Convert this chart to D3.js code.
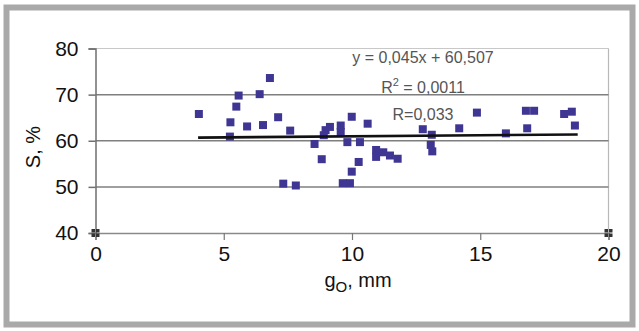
<!DOCTYPE html>
<html><head><meta charset="utf-8">
<script src="https://cdn.jsdelivr.net/npm/d3@7"></script>
<style>body{margin:0;background:#fff}svg{display:block}</style>
</head><body>
<svg id="c" width="639" height="331"></svg>
<script>
// Data (g_o in mm, S in %)
const gValues = [4.03,5.26,5.24,5.58,5.49,5.91,6.40,6.53,6.80,7.12,7.59,7.32,7.81,
  8.54,8.82,8.90,8.97,9.14,9.56,9.56,9.82,9.99,9.64,9.92,9.99,10.26,10.31,10.61,
  10.94,10.94,11.22,11.48,11.78,12.76,13.11,13.07,13.13,14.18,14.87,16.0,16.83,
  16.78,17.10,18.27,18.57,18.69];
const sValues = [65.8,64.0,60.9,69.8,67.4,63.1,70.1,63.4,73.6,65.1,62.2,50.7,50.3,
  59.3,56.0,61.2,62.3,63.0,63.3,61.9,59.7,65.2,50.8,50.8,53.3,55.4,59.7,63.7,
  58.0,56.5,57.5,56.8,56.1,62.5,61.3,59.1,57.7,62.7,66.1,61.6,62.7,
  66.5,66.5,65.8,66.3,63.3];
const cornerMarks = [[0,40],[20,40]];
const xTicks = [0,5,10,15,20];
const yTicks = [40,50,60,70,80];
const slope = 0.045, intercept = 60.507;
const trendRange = [4.0, 18.8];
const eqLabels = ["y = 0,045x + 60,507", "R", "R=0,033"];

const svg = d3.select("#c");
const x = d3.scaleLinear().domain([0,20]).range([95.5,608.5]);
const y = d3.scaleLinear().domain([40,80]).range([233,48.5]);

// outer frame
svg.append("rect").attr("x",6.5).attr("y",7.5).attr("width",626).attr("height",317)
  .attr("fill","#fff").attr("stroke","#a9a9a9").attr("stroke-width",6);

// plot border (top/right light)
svg.append("line").attr("x1",x(0)).attr("x2",x(20)).attr("y1",y(80)).attr("y2",y(80)).attr("stroke","#c8c8c8").attr("stroke-width",1.2);
svg.append("line").attr("x1",x(20)).attr("x2",x(20)).attr("y1",y(80)).attr("y2",y(40)).attr("stroke","#b8b8b8").attr("stroke-width",1.2);

// gridlines
svg.append("g").selectAll("line").data(yTicks.filter(d=>d>40 && d<80)).join("line")
  .attr("x1",x(0)).attr("x2",x(20)).attr("y1",d=>y(d)).attr("y2",d=>y(d))
  .attr("stroke","#7f7f7f").attr("stroke-width",1.5);

// x axis
const xAxis = svg.append("g").attr("transform",`translate(0,${y(40)})`)
  .call(d3.axisBottom(x).tickValues(xTicks).tickSize(7).tickPadding(6).tickFormat(d3.format("d")));
xAxis.select(".domain").attr("stroke","#8a8a8a").attr("stroke-width",1.5);
xAxis.selectAll(".tick line").attr("stroke","#777").attr("stroke-width",1.2);
xAxis.selectAll(".tick text").attr("font-family","'Liberation Sans',Arial,sans-serif").attr("font-size",21).attr("fill","#111");

// y axis
const yAxis = svg.append("g").attr("transform",`translate(${x(0)},0)`)
  .call(d3.axisLeft(y).tickValues(yTicks).tickSize(7).tickPadding(10).tickFormat(d3.format("d")));
yAxis.select(".domain").attr("stroke","#6f6f6f").attr("stroke-width",1.5);
yAxis.selectAll(".tick line").attr("stroke","#6f6f6f").attr("stroke-width",1.5);
yAxis.selectAll(".tick text").attr("font-family","'Liberation Sans',Arial,sans-serif").attr("font-size",21).attr("fill","#111");

// corner markers
const cm = svg.append("g");
cornerMarks.forEach(([a,b])=>{
  [[-4,-4],[0.5,-4],[-4,0.5],[0.5,0.5]].forEach(([dx,dy])=>{
    cm.append("rect").attr("x",x(a)+dx).attr("y",y(b)+dy).attr("width",3.5).attr("height",3.5).attr("fill","#333");
  });
});

// points
const pts = gValues.map((g,i)=>[g,sValues[i]]);
svg.append("g").selectAll("rect").data(pts).join("rect")
  .attr("x",d=>x(d[0])-4).attr("y",d=>y(d[1])-4).attr("width",8).attr("height",8)
  .attr("fill","#3f3694");

// trend line
svg.append("line").attr("x1",x(trendRange[0])).attr("x2",x(trendRange[1]))
  .attr("y1",y(slope*trendRange[0]+intercept)).attr("y2",y(slope*trendRange[1]+intercept))
  .attr("stroke","#111").attr("stroke-width",2.6);

// equation labels
const ff = "'Liberation Sans',Arial,sans-serif";
svg.append("text").attr("x",423).attr("y",63).attr("text-anchor","middle").attr("font-family",ff)
  .attr("font-size",16).attr("fill","#555").text(eqLabels[0]);
const r2 = svg.append("text").attr("x",423).attr("y",93).attr("text-anchor","middle").attr("font-family",ff)
  .attr("font-size",16).attr("fill","#555");
r2.append("tspan").text(eqLabels[1]);
r2.append("tspan").attr("dy",-7).attr("font-size",11).text("2");
r2.append("tspan").attr("dy",7).text(" = 0,0011");
svg.append("text").attr("x",423).attr("y",120).attr("text-anchor","middle").attr("font-family",ff)
  .attr("font-size",16).attr("fill","#555").text(eqLabels[2]);

// axis titles
const xt = svg.append("text").attr("x",358).attr("y",287).attr("text-anchor","middle").attr("font-family",ff)
  .attr("font-size",20).attr("fill","#111");
xt.append("tspan").text("g");
xt.append("tspan").attr("dy",5).attr("font-size",15).text("O");
xt.append("tspan").attr("dy",-5).text(", mm");
svg.append("text").attr("transform","translate(40,147) rotate(-90)").attr("text-anchor","middle")
  .attr("font-family",ff).attr("font-size",20).attr("fill","#111").text("S, %");
</script>
</body></html>
